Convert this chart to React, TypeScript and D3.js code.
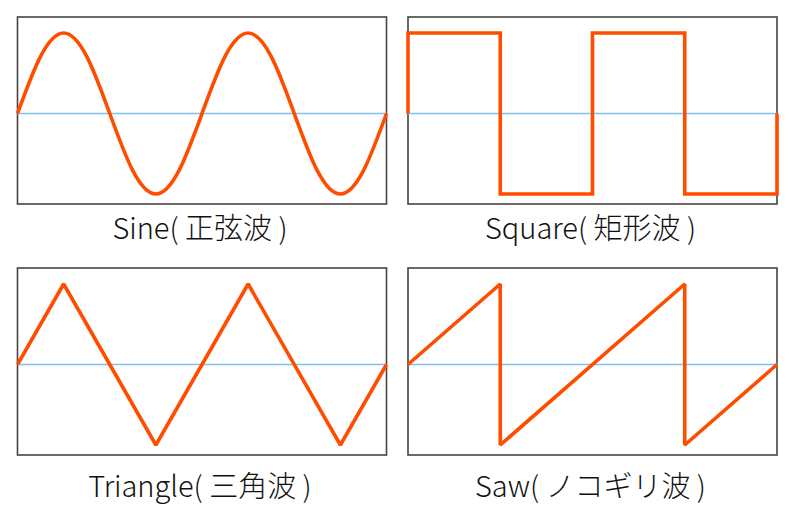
import * as d3 from 'd3';
import { FunctionComponent } from "react";

// time is in periods (panel spans 2 periods), value is amplitude -1..1
const sineT = [0, 0.125, 0.25, 0.375, 0.5, 0.625, 0.75, 0.875, 1, 1.125, 1.25, 1.375, 1.5, 1.625, 1.75, 1.875, 2];
const sineV = [0, 0.71, 1, 0.71, 0, -0.71, -1, -0.71, 0, 0.71, 1, 0.71, 0, -0.71, -1, -0.71, 0];

const squareT = [0, 0, 0.5, 0.5, 1, 1, 1.5, 1.5, 2, 2];
const squareV = [0, 1, 1, -1, -1, 1, 1, -1, -1, 0];

const triangleT = [0, 0.25, 0.75, 1.25, 1.75, 2];
const triangleV = [0, 1, -1, 1, -1, 0];

const sawT = [0, 0.5, 0.5, 1.5, 1.5, 2];
const sawV = [0, 1, -1, 1, -1, 0];

const labels = ["Sine( 正弦波 )", "Square( 矩形波 )", "Triangle( 三角波 )", "Saw( ノコギリ波 )"];

type Panel = { t: number[], v: number[], curve: d3.CurveFactory, label: string, x: number, y: number, labelY: number };

const W = 800;
const H = 519;
const boxW = 369;
const boxH = 187;

const panels: Panel[] = [
    { t: sineT, v: sineV, curve: d3.curveNatural, label: labels[0], x: 17.5, y: 17, labelY: 239 },
    { t: squareT, v: squareV, curve: d3.curveLinear, label: labels[1], x: 408, y: 17, labelY: 239 },
    { t: triangleT, v: triangleV, curve: d3.curveLinear, label: labels[2], x: 17.5, y: 268, labelY: 497 },
    { t: sawT, v: sawV, curve: d3.curveLinear, label: labels[3], x: 408, y: 268, labelY: 497 },
];

const WavePanel: FunctionComponent<{ p: Panel }> = ({ p }) => {
    const x = d3.scaleLinear([0, 2], [p.x, p.x + boxW]);
    const y = d3.scaleLinear([-1, 1], [p.y + 177, p.y + 16]);
    const line = d3.line<number>()
        .x((_, i) => x(p.t[i]))
        .y(d => y(d))
        .curve(p.curve);
    return <g>
        <rect x={p.x} y={p.y} width={boxW} height={boxH} fill="none" stroke="#474343" strokeWidth={1.6} />
        <line x1={x(0)} x2={x(2)} y1={y(0)} y2={y(0)} stroke="#7cc2ec" strokeWidth={1.6} />
        <path d={line(p.v) ?? ''} fill="none" stroke="#ff4d00" strokeWidth={3.6} strokeLinejoin="miter" strokeMiterlimit={2} />
        <text x={p.x + boxW / 2 - 2} y={p.labelY} textAnchor="middle"
            fontFamily="'Noto Sans CJK JP', 'Noto Sans', sans-serif" fontSize={29} fontWeight={300} fill="#111">
            {p.label}
        </text>
    </g>
}

export default function App() {
    return <svg width={W} height={H} viewBox={`0 0 ${W} ${H}`}
        style={{ position: 'absolute', left: 0, top: 0, background: '#fff' }}>
        {panels.map((p, i) => <WavePanel key={i} p={p} />)}
    </svg>
}
